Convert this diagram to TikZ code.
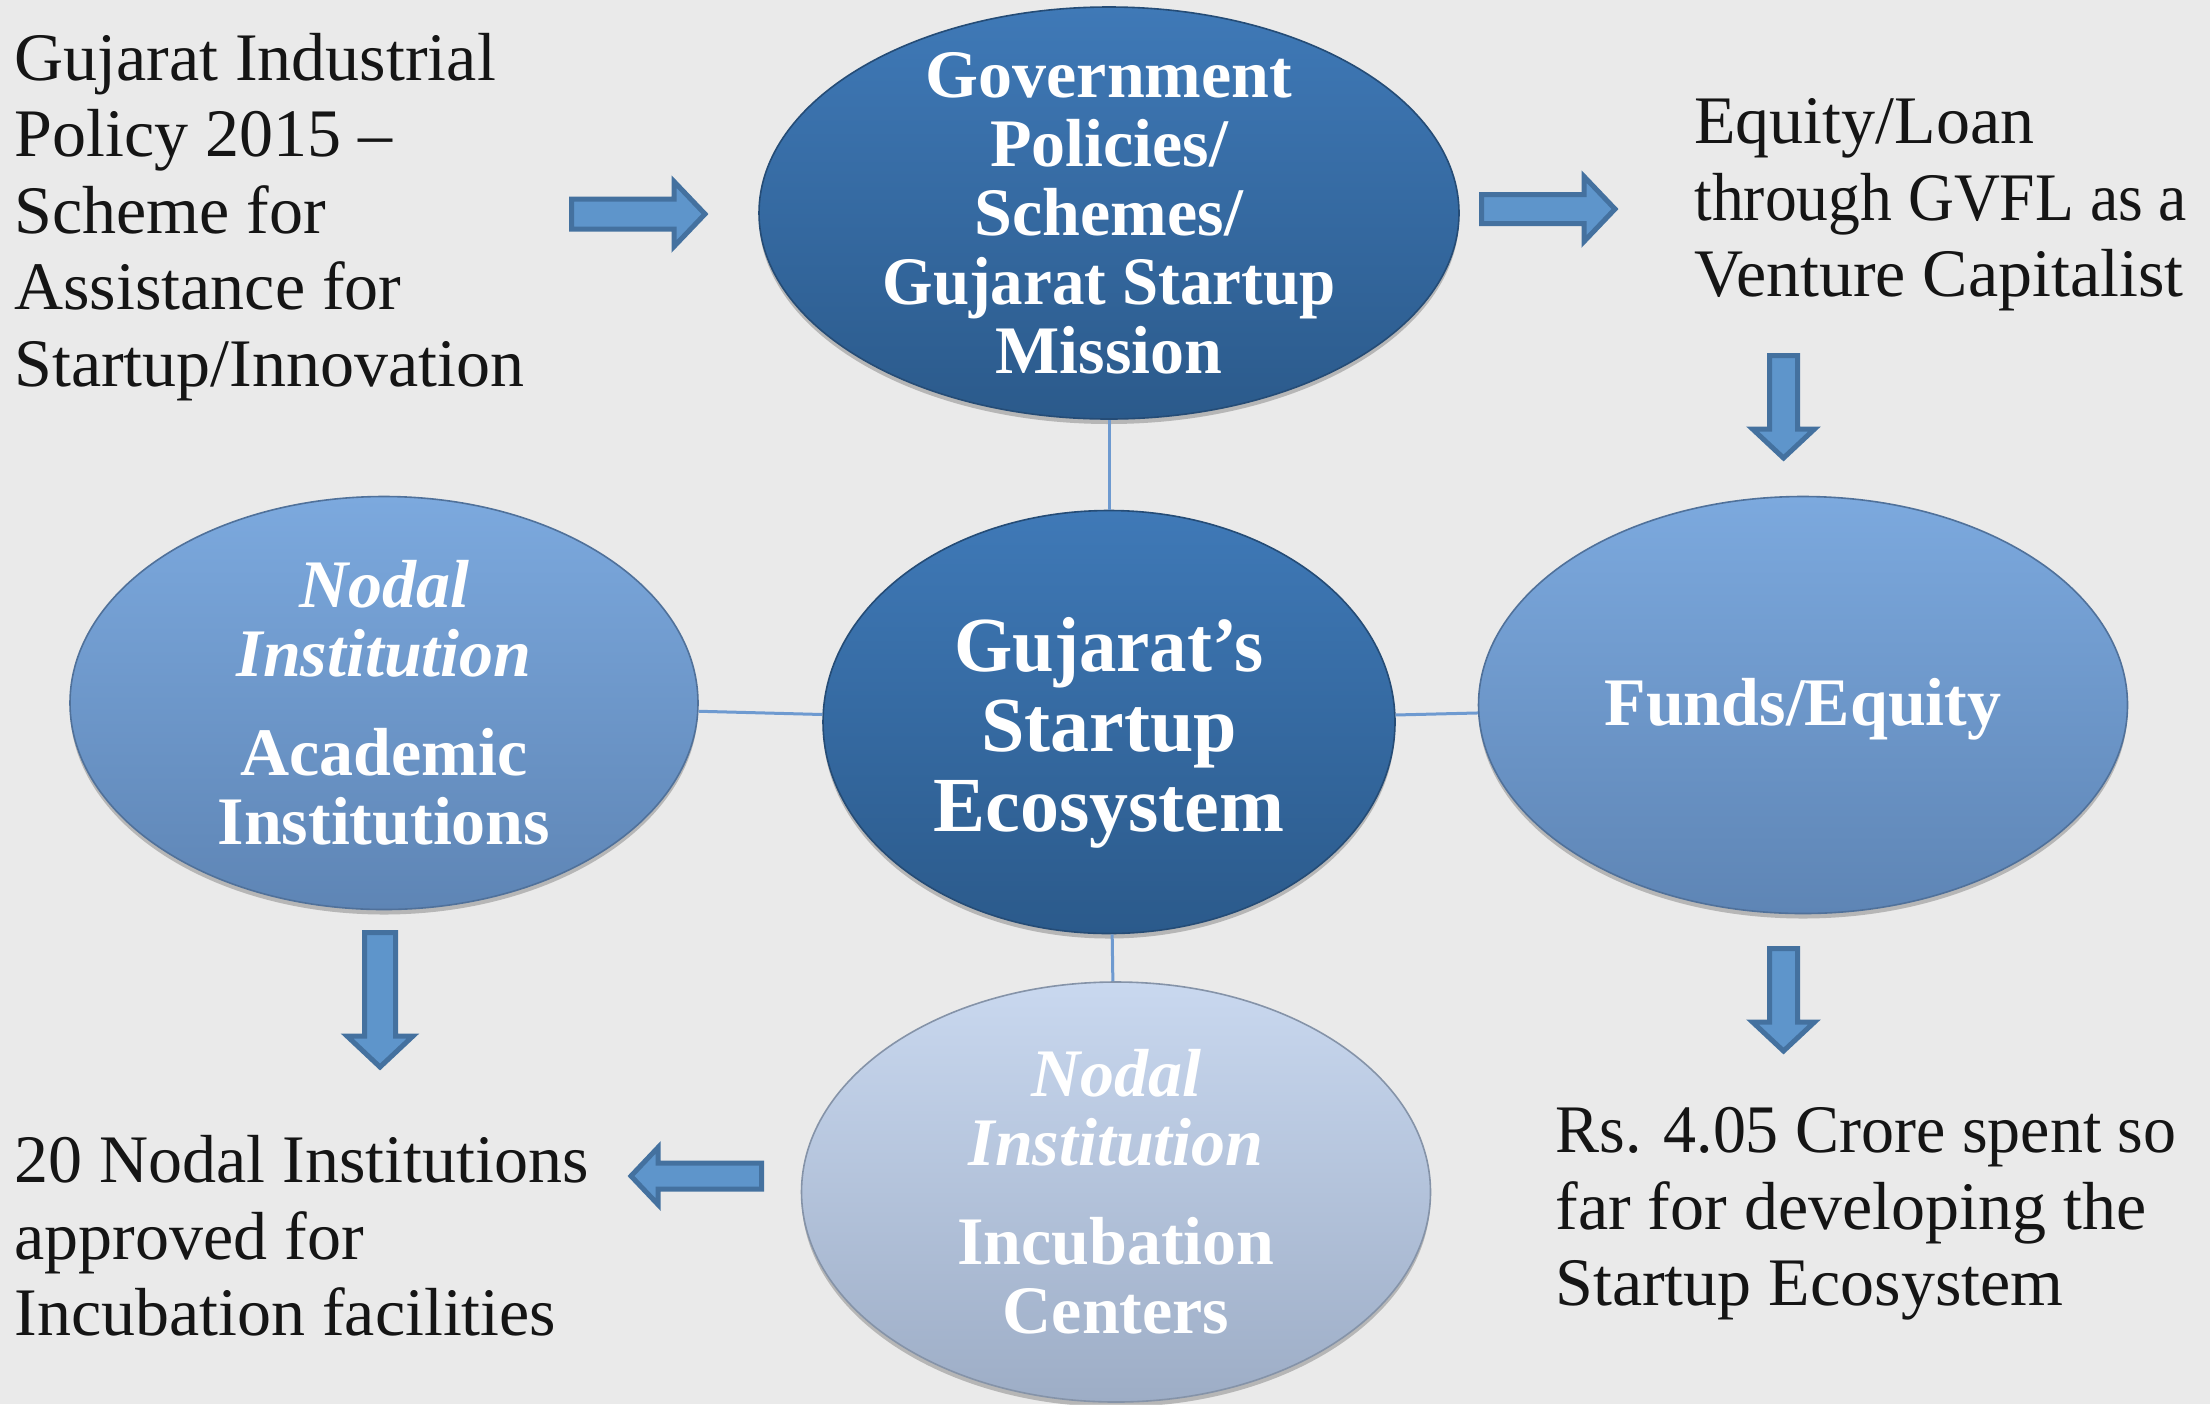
\documentclass[tikz,border=0pt]{standalone}
\usepackage{fontspec}
\usepackage{graphicx}
\setmainfont{Liberation Serif}
\usetikzlibrary{shapes.geometric,shadows}
\definecolor{bg}{HTML}{EAEAEA}
\definecolor{darkTop}{HTML}{3F79B7}
\definecolor{darkBot}{HTML}{2B5A8B}
\definecolor{midTop}{HTML}{7CA9DE}
\definecolor{midBot}{HTML}{5E85B5}
\definecolor{lightTop}{HTML}{C9D8EF}
\definecolor{lightBot}{HTML}{9DADC6}
\definecolor{arrowfill}{HTML}{5E95CB}
\definecolor{arrowline}{HTML}{44719F}
\definecolor{linkc}{HTML}{6E9AD0}
\definecolor{txt}{HTML}{151515}
\tikzset{
  bubble/.style={ellipse, inner sep=0pt, line width=0.8pt,
    drop shadow={shadow xshift=0pt, shadow yshift=-2.5pt, opacity=0.22, fill=black}},
  darkbub/.style={bubble, top color=darkTop, bottom color=darkBot, draw=darkBot!85!black},
  midbub/.style={bubble, top color=midTop, bottom color=midBot, draw=midBot!85!black},
  lightbub/.style={bubble, top color=lightTop, bottom color=lightBot, draw=lightBot!85!black},
  bubtext/.style={inner sep=0pt, align=center, text=white,
    font=\bfseries\fontsize{34}{34.5}\selectfont},
  plain/.style={align=left, anchor=west, inner sep=0pt, text=txt,
    font=\fontsize{34}{38.2}\selectfont},
  link/.style={draw=linkc, line width=1.5pt},
  blockarrow/.style={fill=arrowfill, draw=arrowline, line width=2.5pt, line join=miter},
  pics/barrow/.style args={#1/#2/#3/#4}{code={
    \draw[blockarrow] (2.5,{-(#2-5)/2}) -- ({#1-#4},{-(#2-5)/2}) -- ({#1-#4},{-(#3-5)/2})
      -- ({#1-4},0) -- ({#1-#4},{(#3-5)/2}) -- ({#1-#4},{(#2-5)/2}) -- (2.5,{(#2-5)/2}) -- cycle;
  }}
}
\begin{document}
\begin{tikzpicture}[x=0.5pt,y=-0.5pt]
\fill[bg] (0,0) rectangle (2210,1404);
\useasboundingbox (0,0) rectangle (2210,1404);

% ellipses
\node[darkbub, minimum width=350pt, minimum height=206pt] (gov) at (1109,213) {};
\node[darkbub, minimum width=286pt, minimum height=211.5pt] (eco) at (1109,722) {};
\node[midbub, minimum width=314pt, minimum height=206.5pt] (acad) at (384,703) {};
\node[midbub, minimum width=324.5pt, minimum height=208.5pt] (funds) at (1803,705) {};
\node[lightbub, minimum width=314.5pt, minimum height=210pt] (incub) at (1116,1192) {};

% ellipse texts
\node[bubtext] (govtext) at (gov.center)
  {Government\\Policies/\\Schemes/\\\scalebox{0.955}[1]{Gujarat Startup}\\Mission};
\node[bubtext, font=\bfseries\fontsize{39}{40}\selectfont] (ecotext) at ([yshift=-5.5pt]eco.center)
  {\scalebox{0.96}[1]{Gujarat’s}\\Startup\\Ecosystem};
\node[bubtext] (acadtext) at (acad.center)
  {\textit{Nodal}\\\textit{Institution}\\[15pt]Academic\\Institutions};
\node[bubtext] (fundstext) at ([yshift=-2pt]funds.center) {Funds/Equity};
\node[bubtext] (incubtext) at (incub.center)
  {\textit{Nodal}\\\textit{Institution}\\[15pt]Incubation\\Centers};

% connectors
\draw[link] (gov) -- (eco);
\draw[link] (acad) -- (eco);
\draw[link] (eco) -- (funds);
\draw[link] (eco) -- (incub);

% texts
\node[plain] (policy) at (14,217)
  {Gujarat Industrial\\Policy 2015 –\\Scheme for\\Assistance for\\Startup/Innovation};
\node[plain] (gvfl) at (1694,205)
  {Equity/Loan\\\scalebox{0.935}[1]{through GVFL as a}\\Venture Capitalist};
\node[plain] (spent) at (1555,1214)
  {\scalebox{0.97}[1]{Rs. 4.05 Crore spent so}\\far for developing the\\Startup Ecosystem};
\node[plain] (approved) at (14,1236)
  {20 Nodal Institutions\\approved for\\Incubation facilities};

% block arrows
\pic at (569,214) {barrow=140/35/70/35};
\pic at (1479,209) {barrow=140/34/70/35};
\pic[rotate=-90] at (1783.5,353) {barrow=109/33/67/33};
\pic[rotate=-90] at (1783.5,946) {barrow=109/33/67/33};
\pic[rotate=-90] at (380,930) {barrow=141/36/71/35};
\pic[rotate=180] at (764,1176) {barrow=137/31/62/31};
\end{tikzpicture}
\end{document}
